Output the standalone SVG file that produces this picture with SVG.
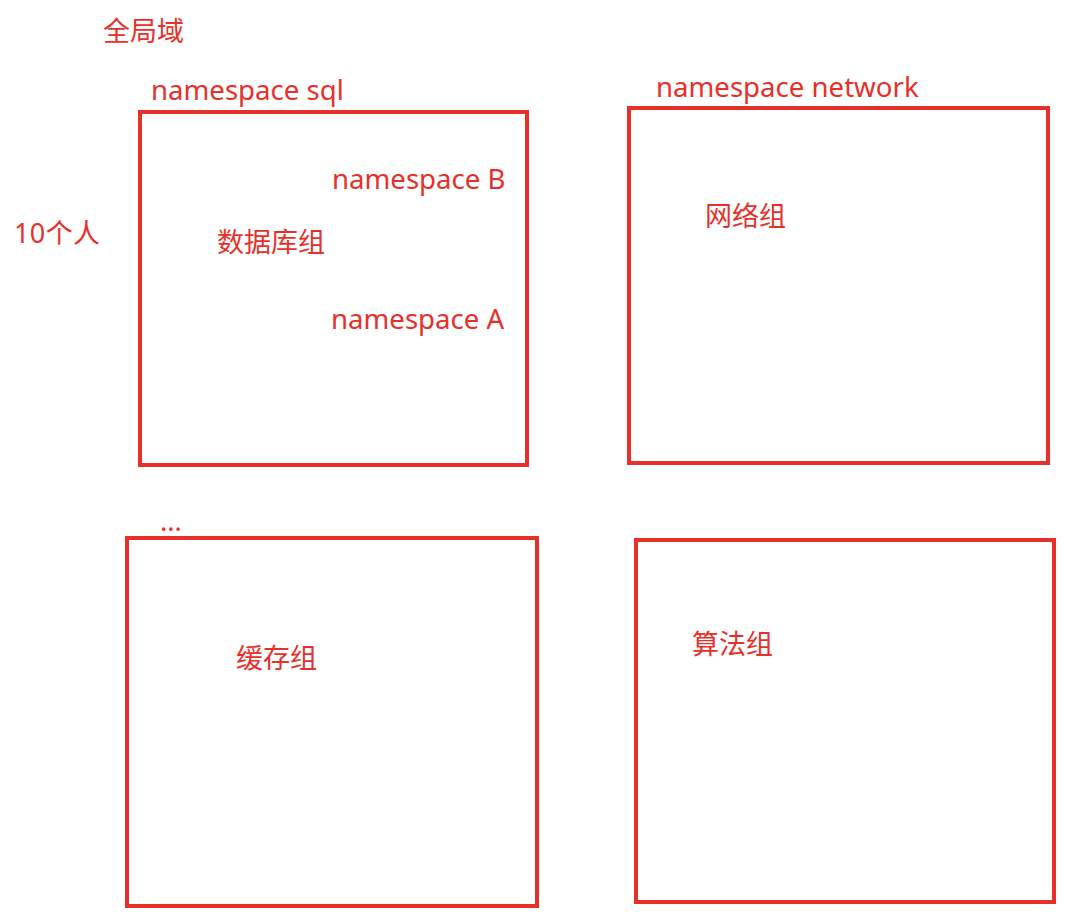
<svg xmlns="http://www.w3.org/2000/svg" width="1076" height="924" viewBox="0 0 1076 924">
<style>
.box{fill:none;stroke:#E8302A;stroke-width:4}
.t{fill:#E8302A;font-family:"Noto Sans","Noto Sans CJK SC",sans-serif;font-size:27px}
.l{font-size:27.6px}
</style>
<rect width="1076" height="924" fill="#ffffff"/>
<g id="labels">
<text class="t" x="103" y="41">全局域</text>
<text class="t" x="14" y="243" textLength="86">10个人</text>
<text class="t" x="160" y="531">...</text>
</g>
<g id="ns-sql">
<rect class="box" x="140" y="112" width="387" height="353"/>
<text class="t l" x="151" y="100">namespace sql</text>
<text class="t l" x="332" y="189">namespace B</text>
<text class="t" x="217" y="252">数据库组</text>
<text class="t l" x="331" y="329">namespace A</text>
</g>
<g id="ns-network">
<rect class="box" x="629" y="108" width="419" height="355"/>
<text class="t l" x="656" y="97">namespace network</text>
<text class="t" x="705" y="226">网络组</text>
</g>
<g id="cache">
<rect class="box" x="127" y="538" width="410" height="368"/>
<text class="t" x="236" y="668">缓存组</text>
</g>
<g id="algo">
<rect class="box" x="636" y="540" width="418" height="362"/>
<text class="t" x="692" y="654">算法组</text>
</g>
<g id="connectors"></g>
</svg>
